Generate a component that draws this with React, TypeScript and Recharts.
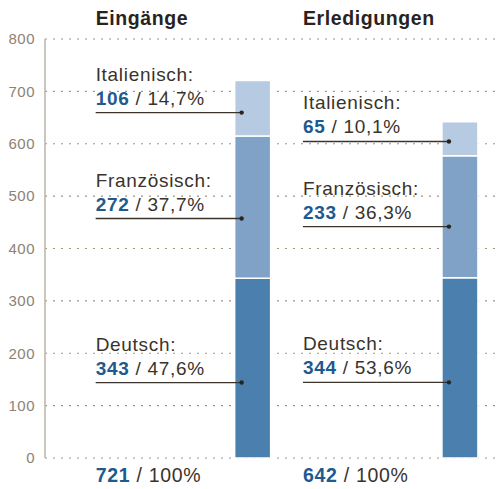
import { BarChart, Bar, XAxis, YAxis, CartesianGrid, LabelList } from "recharts"

const CATEGORIES = ["Eingänge", "Erledigungen"]
const DEUTSCH = [343, 344]
const FRANZOESISCH = [272, 233]
const ITALIENISCH = [106, 65]
const Y_TICKS = [0, 100, 200, 300, 400, 500, 600, 700, 800]

const SERIES = [
  { key: "deutsch", name: "Deutsch", values: DEUTSCH, fill: "#4b80ae" },
  { key: "franz", name: "Französisch", values: FRANZOESISCH, fill: "#7fa2c6" },
  { key: "ital", name: "Italienisch", values: ITALIENISCH, fill: "#b6cae1" },
]

const TOTALS = CATEGORIES.map((_, i) => SERIES.reduce((s, se) => s + se.values[i], 0))

const data = CATEGORIES.map((name, i) => ({
  name,
  idx: i,
  deutsch: DEUTSCH[i],
  franz: FRANZOESISCH[i],
  ital: ITALIENISCH[i],
}))

const FONT = "'Liberation Sans', Arial, Helvetica, sans-serif"
const DARK = "#3a332b"
const BLUE = "#1d5a8f"

const pct = (v: number, total: number) => ((v / total) * 100).toFixed(1).replace(".", ",")

// label block left of the bar: name, value / percent, leader line to a dot on the segment
function segmentLabel(seriesIdx: number) {
  return (props: any) => {
    const vb = props.viewBox || props
    const { x, y, width, height } = vb
    const i = props.index
    if (x == null || i == null) return null
    const se = SERIES[seriesIdx]
    const v = se.values[i]
    const lx = x - 139
    const dx = x + 7
    const dy = y + height * 0.58
    return (
      <g>
        <text x={lx} y={dy - 32} fontSize={19} letterSpacing={0.7} fill={DARK} fontFamily={FONT}>
          {se.name}:
        </text>
        <text x={lx} y={dy - 8} fontSize={19} letterSpacing={0.7} fill={DARK} fontFamily={FONT}>
          <tspan fontWeight="bold" fill={BLUE}>{v}</tspan>
          <tspan> / {pct(v, TOTALS[i])}%</tspan>
        </text>
        <line x1={lx} x2={dx} y1={dy} y2={dy} stroke="#3b342c" strokeWidth={1.3} />
        <circle cx={dx} cy={dy} r={2.2} fill="#2a241e" />
      </g>
    )
  }
}

// header above and total below each column
function columnLabel(props: any) {
  const vb = props.viewBox || props
  const { x } = vb
  const i = props.index
  if (x == null || i == null) return null
  const lx = x - 139
  return (
    <g>
      <text x={lx} y={25} fontSize={19.5} fontWeight="bold" letterSpacing={0.6} fill="#2a231c" fontFamily={FONT}>
        {CATEGORIES[i]}
      </text>
      <text x={lx} y={482} fontSize={19.5} letterSpacing={0.7} fill={DARK} fontFamily={FONT}>
        <tspan fontWeight="bold" fill={BLUE}>{TOTALS[i]}</tspan>
        <tspan> / 100%</tspan>
      </text>
    </g>
  )
}

export default function App() {
  return (
    <div style={{ position: "absolute", left: 0, top: 0, width: 500, height: 489, background: "#fff" }}>
      <BarChart width={500} height={489} data={data} margin={{ top: 39, right: 0, bottom: 31, left: 0 }}>
        <CartesianGrid horizontal vertical={false} stroke="#a39679" strokeDasharray="2 6" strokeWidth={1.2} />
        <XAxis
          type="number"
          dataKey="idx"
          domain={[-1, 1.195]}
          allowDataOverflow
          height={0}
          tick={false}
          tickLine={false}
          axisLine={{ stroke: "#bab4aa", strokeWidth: 2 }}
        />
        <YAxis
          width={45}
          domain={[0, 800]}
          ticks={Y_TICKS}
          interval={0}
          tickLine={false}
          tickSize={0}
          tickMargin={10}
          axisLine={{ stroke: "#bab4aa", strokeWidth: 1.5 }}
          tick={{ fill: "#8d8273", fontSize: 15, letterSpacing: 0.5, fontFamily: FONT }}
        />
        {SERIES.map((se, si) => (
          <Bar
            key={se.key}
            dataKey={se.key}
            stackId="a"
            fill={se.fill}
            stroke="#fff"
            strokeWidth={1.5}
            barSize={36}
            isAnimationActive={false}
          >
            <LabelList dataKey={se.key} content={segmentLabel(si)} />
            {si === SERIES.length - 1 && <LabelList dataKey={se.key} content={columnLabel} />}
          </Bar>
        ))}
      </BarChart>
    </div>
  )
}
